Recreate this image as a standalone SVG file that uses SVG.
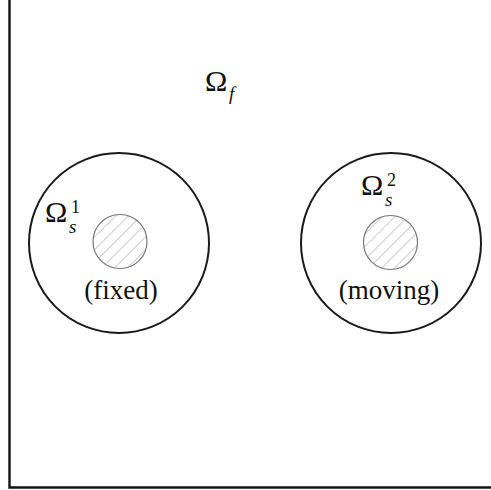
<svg xmlns="http://www.w3.org/2000/svg" width="491" height="490" viewBox="0 0 491 490">
  <style>
    .frame { fill: none; stroke: #111; stroke-width: 2.4; }
    .outer { fill: none; stroke: #1a1a1a; stroke-width: 2; }
    .inner { fill: url(#hatch); stroke: #777; stroke-width: 1.2; }
    text { font-family: "Liberation Serif", "Times New Roman", "DejaVu Serif", serif; fill: #111; }
    .big { font-size: 30px; }
    .sub { font-size: 19px; font-style: italic; }
    .sup { font-size: 18px; }
    .note { font-size: 27px; }
  </style>
  <defs>
    <pattern id="hatch" patternUnits="userSpaceOnUse" width="9" height="9" patternTransform="rotate(45)">
      <rect width="9" height="9" fill="#fff"/>
      <line x1="0" y1="0" x2="0" y2="9" stroke="#aaa" stroke-width="1.2"/>
    </pattern>
  </defs>
  <rect width="491" height="490" fill="#fff"/>

  <!-- domain boundary: left wall and bottom floor -->
  <g id="boundary">
    <polyline class="frame" points="9.5,0 9.5,487.5 491,487.5"/>
  </g>

  <!-- fluid region label -->
  <g id="fluid-label">
    <text><tspan class="big" x="205" y="91">Ω</tspan><tspan class="sub" x="229" y="100">f</tspan></text>
  </g>

  <!-- solid 1 (fixed) -->
  <g id="solid1">
    <circle class="outer" cx="119" cy="243" r="90"/>
    <circle class="inner" cx="120" cy="241.5" r="27"/>
    <text><tspan class="big" x="45" y="222">Ω</tspan><tspan class="sup" x="71" y="213">1</tspan><tspan class="sub" x="69" y="233">s</tspan></text>
    <text class="note" x="121" y="299" text-anchor="middle">(fixed)</text>
  </g>

  <!-- solid 2 (moving) -->
  <g id="solid2">
    <circle class="outer" cx="391" cy="243" r="90"/>
    <circle class="inner" cx="390.5" cy="242.5" r="27"/>
    <text><tspan class="big" x="361" y="195">Ω</tspan><tspan class="sup" x="387" y="186">2</tspan><tspan class="sub" x="385" y="206">s</tspan></text>
    <text class="note" x="389" y="299" text-anchor="middle">(moving)</text>
  </g>
</svg>
